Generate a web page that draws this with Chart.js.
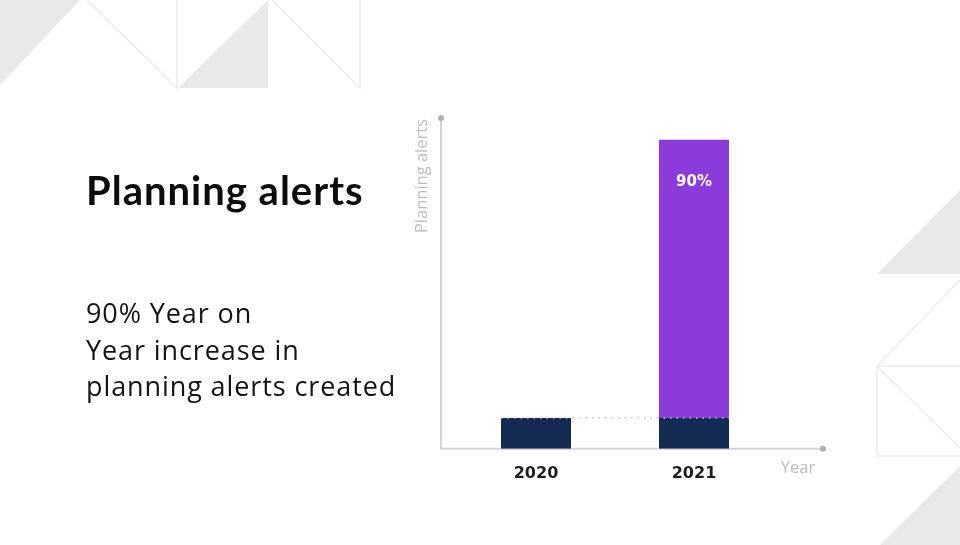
<!DOCTYPE html>
<html>
<head>
<meta charset="utf-8">
<title>Planning alerts</title>
<script src="https://cdn.jsdelivr.net/npm/chart.js@4.4.1/dist/chart.umd.min.js"></script>
<style>
  body { margin: 0; background: #fff; }
  #stage { position: relative; width: 960px; height: 545px; overflow: hidden; }
  #bg, #chart { position: absolute; left: 0; top: 0; }
  .heading { position: absolute; left: 86px; top: 166px; font-family: Lato, sans-serif; font-size: 40px; font-weight: 700; color: #0d0d0d; letter-spacing: 1px; white-space: nowrap; }
  .copy { position: absolute; left: 86px; top: 295px; font-family: "Open Sans", sans-serif; font-size: 27px; line-height: 36.5px; letter-spacing: 0.9px; color: #141414; white-space: nowrap; }
</style>
</head>
<body>
<div id="stage">
  <svg id="bg" width="960" height="545">
    <g fill="#e9e9eb">
      <polygon points="0,0 80,0 0,85" />
      <polygon points="178,88 268,0 268,88" />
      <polygon points="877,274 960,190 960,274" />
      <polygon points="880,545 960,466 960,545" />
    </g>
    <g stroke="#ececee" stroke-width="1.5" fill="none">
      <polyline points="87,0 177,88 177,0" />
      <polyline points="272,0 360,88 360,0" />
      <polyline points="877,366 960,280" />
      <polyline points="960,366 877,366 877,456 960,456" />
      <polyline points="877,366 960,448" />
    </g>
  </svg>
  <canvas id="chart" width="960" height="545"></canvas>
  <div class="heading">Planning alerts</div>
  <div class="copy">90% Year on<br>Year increase in<br>planning alerts created</div>
</div>
<script>
const years = ["2020", "2021"];
const baseAlerts = [10, 10];
const increaseAlerts = [0, 90];
const increaseLabels = ["", "90%"];
const yMax = 107;

const axisColor = "#d4d4d6";

const decor = {
  id: "decor",
  beforeDatasetsDraw(chart) {
    const { ctx, chartArea: a } = chart;
    const left = a.left - 16;
    const right = a.right + 50;
    ctx.save();
    ctx.strokeStyle = axisColor;
    ctx.lineWidth = 2;
    ctx.beginPath();
    ctx.moveTo(left, a.top);
    ctx.lineTo(left, a.bottom);
    ctx.lineTo(right, a.bottom);
    ctx.stroke();

    ctx.fillStyle = "#b0b0b2";
    ctx.beginPath();
    ctx.arc(left, a.top, 3, 0, Math.PI * 2);
    ctx.arc(right, a.bottom, 3, 0, Math.PI * 2);
    ctx.fill();

    // axis titles
    ctx.fillStyle = "#bcbcbe";
    ctx.font = "16.5px 'Open Sans', sans-serif";
    ctx.textBaseline = "middle";
    ctx.textAlign = "center";
    ctx.fillText("Year", a.right + 25, a.bottom + 19);
    ctx.translate(left - 19, a.top + 1);
    ctx.rotate(-Math.PI / 2);
    ctx.textAlign = "right";
    ctx.fillText("Planning alerts", 0, 0);
    ctx.restore();
  },
  afterDatasetsDraw(chart) {
    const { ctx, scales: { y } } = chart;
    const baseBars = chart.getDatasetMeta(0).data;
    const incBars = chart.getDatasetMeta(1).data;
    const lineY = y.getPixelForValue(baseAlerts[0]);
    const first = baseBars[0];
    const last = incBars[incBars.length - 1];

    ctx.save();
    ctx.strokeStyle = "#c4c4c8";
    ctx.lineWidth = 1.5;
    ctx.setLineDash([1.5, 5]);
    ctx.beginPath();
    ctx.moveTo(first.x - first.width / 2, lineY);
    ctx.lineTo(last.x + last.width / 2, lineY);
    ctx.stroke();
    ctx.setLineDash([]);

    ctx.fillStyle = "#ffffff";
    ctx.font = "bold 15px 'DejaVu Sans', sans-serif";
    ctx.textAlign = "center";
    ctx.textBaseline = "middle";
    incBars.forEach((bar, i) => {
      if (increaseLabels[i]) ctx.fillText(increaseLabels[i], bar.x, bar.y + 42);
    });
    ctx.restore();
  }
};

new Chart(document.getElementById("chart"), {
  type: "bar",
  data: {
    labels: years,
    datasets: [
      {
        label: "2020 level",
        data: baseAlerts,
        backgroundColor: "#132a52",
        categoryPercentage: 1,
        barPercentage: 0.443
      },
      {
        label: "Increase",
        data: increaseAlerts,
        backgroundColor: "#8a3bd9",
        categoryPercentage: 1,
        barPercentage: 0.443
      }
    ]
  },
  options: {
    responsive: false,
    animation: false,
    layout: { padding: { left: 457, right: 187, top: 118, bottom: 47 } },
    plugins: {
      legend: { display: false },
      tooltip: { enabled: false }
    },
    scales: {
      x: {
        stacked: true,
        grid: { display: false, drawTicks: false },
        border: { display: false },
        ticks: {
          color: "#1e1e1e",
          padding: 15,
          font: { family: "'DejaVu Sans', sans-serif", size: 16, weight: "bold" }
        }
      },
      y: {
        stacked: true,
        display: false,
        min: 0,
        max: yMax
      }
    }
  },
  plugins: [decor]
});
</script>
</body>
</html>
